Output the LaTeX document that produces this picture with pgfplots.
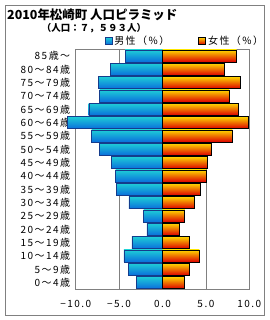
\documentclass[border=0pt]{standalone}
\usepackage{fontspec}
\setmainfont{Noto Sans CJK JP}
\newfontfamily\jp[LetterSpace=15]{Noto Sans CJK JP}
\usepackage{pgfplots}
\pgfplotsset{compat=1.18}
\usepackage{pgfplotstable}
\definecolor{mtop}{RGB}{30,205,215}
\definecolor{mbot}{RGB}{10,110,220}
\definecolor{mline}{RGB}{20,60,140}
\definecolor{ftop}{RGB}{255,215,0}
\definecolor{fmid}{RGB}{255,165,0}
\definecolor{fbot}{RGB}{220,0,0}
\definecolor{gridgray}{RGB}{128,128,128}
\pgfplotstableread{
idx male female
0 -2.99 2.57
1 -3.94 3.10
2 -4.44 4.25
3 -3.52 3.10
4 -1.80 1.95
5 -2.18 2.57
6 -3.86 3.68
7 -5.32 4.41
8 -5.40 5.06
9 -5.86 5.17
10 -7.24 5.63
11 -8.16 8.05
12 -10.95 9.93
13 -8.50 8.74
14 -7.24 7.70
15 -7.36 9.00
16 -5.97 7.13
17 -4.32 8.55
}\datatable
\begin{document}
\begin{tikzpicture}
\begin{axis}[
  scale only axis, width=173.6bp, height=240bp,
  xmin=-10, xmax=10, ymin=-0.5, ymax=17.5,
  clip=false,
  axis line style={gridgray, line width=0.8bp},
  xtick={-10,-5,0,5,10},
  xticklabels={−10.0,−5.0,0.0,5.0,10.0},
  ytick={0,...,17},
  yticklabels={0〜4歳,5〜9歳,10〜14歳,15〜19歳,20〜24歳,25〜29歳,30〜34歳,35〜39歳,40〜44歳,45〜49歳,50〜54歳,55〜59歳,60〜64歳,65〜69歳,70〜74歳,75〜79歳,80〜84歳,85歳〜},
  major tick length=0pt,
  xmajorgrids, grid style={gridgray, line width=0.8bp},
  tick label style={font=\jp\fontsize{10}{10}\selectfont},
  xticklabel style={yshift=-7bp},
  yticklabel style={xshift=-2bp},
  legend columns=2,
  legend style={at={(0.167,1.035)}, anchor=west, draw=none, fill=none, inner sep=0pt,
    font=\jp\fontsize{10}{10}\selectfont, /tikz/every even column/.append style={column sep=27bp}},
  legend image code/.code={\draw[#1] (0bp,-3.5bp) rectangle (7bp,3.5bp);},
]
\addlegendimage{draw=mline, line width=0.4bp, top color=mtop, bottom color=mbot}
\addlegendentry{男性（\%）}
\addlegendimage{draw=black, line width=0.8bp, top color=ftop, middle color=fmid, bottom color=fbot}
\addlegendentry{女性（\%）}
\pgfplotsinvokeforeach{0,...,17}{
\addplot[forget plot, xbar, bar width=0.9, bar shift=0pt, draw=mline, line width=0.4bp, top color=mtop, bottom color=mbot, restrict expr to domain={\coordindex}{#1:#1}] table[x=male,y=idx] \datatable;
\addplot[forget plot, xbar, bar width=0.9, bar shift=0pt, draw=black, line width=0.9bp, top color=ftop, middle color=fmid, bottom color=fbot, restrict expr to domain={\coordindex}{#1:#1}] table[x=female,y=idx] \datatable;
}
\coordinate (ll) at (rel axis cs:0,0);
\end{axis}
\pgfresetboundingbox
\path[use as bounding box] ([shift={(-75.7bp,289.3bp)}]ll) rectangle ([shift={(194.3bp,-30.7bp)}]ll);
\draw[gridgray,line width=0.8bp] ([shift={(-70.7bp,284.3bp)}]ll) rectangle ([shift={(188.8bp,-25.7bp)}]ll);
\node[anchor=west,inner sep=0pt,font=\fontsize{12.5}{13}\selectfont\bfseries] at ([shift={(-68.7bp,274.3bp)}]ll) {2010年松崎町 人口ピラミッド};
\node[anchor=center,inner sep=0pt,font=\fontsize{9.5}{10}\selectfont\bfseries] at ([shift={(18.3bp,260.8bp)}]ll) {（人口：７，５９３人）};
\end{tikzpicture}
\end{document}
